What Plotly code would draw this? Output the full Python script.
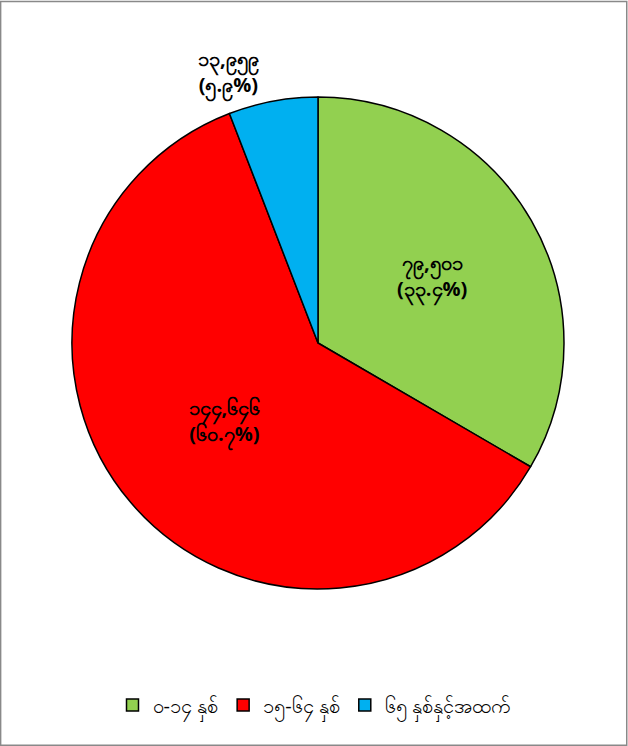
import plotly.graph_objects as go

categories = ["၀-၁၄ နှစ်", "၁၅-၆၄ နှစ်", "၆၅ နှစ်နှင့်အထက်"]
values = [79501, 144646, 13959]
percents = [33.4, 60.7, 5.9]
colors = ["#92D050", "#FF0000", "#00B0F0"]

MY_DIGITS = str.maketrans("0123456789", "၀၁၂၃၄၅၆၇၈၉")

def my_num(s):
    return s.translate(MY_DIGITS)

texts = [my_num(f"{v:,}") + "<br>(" + my_num(f"{p:.1f}") + "%)" for v, p in zip(values, percents)]

W, H = 628, 746
cx, cy, r = 318, 343, 246

fig = go.Figure(go.Pie(
    labels=categories,
    values=values,
    text=texts,
    textinfo="text",
    textposition=["inside", "inside", "outside"],
    insidetextorientation="horizontal",
    sort=False,
    direction="clockwise",
    rotation=0,
    marker=dict(colors=colors, line=dict(color="black", width=1.5)),
    textfont=dict(size=20, color="black", weight="bold"),
    domain=dict(x=[(cx - r) / W, (cx + r) / W], y=[(H - cy - r) / H, (H - cy + r) / H]),
    hoverinfo="label+value+percent",
))

fig.update_layout(
    width=W, height=H,
    margin=dict(l=0, r=0, t=0, b=0),
    paper_bgcolor="white",
    plot_bgcolor="white",
    font=dict(size=17, color="black"),
    legend=dict(orientation="h", x=0.5, xanchor="center", y=1 - 705 / H, yanchor="middle",
                font=dict(size=20, color="black"), itemwidth=30, tracegroupgap=0),
    shapes=[dict(type="rect", xref="paper", yref="paper", x0=0.001, x1=0.998, y0=0.001, y1=0.998,
                 line=dict(color="#898989", width=1.5))],
)

fig.write_html("out.html", config={"displayModeBar": False},
               post_script="document.body.style.margin='0';document.body.style.padding='0';")
